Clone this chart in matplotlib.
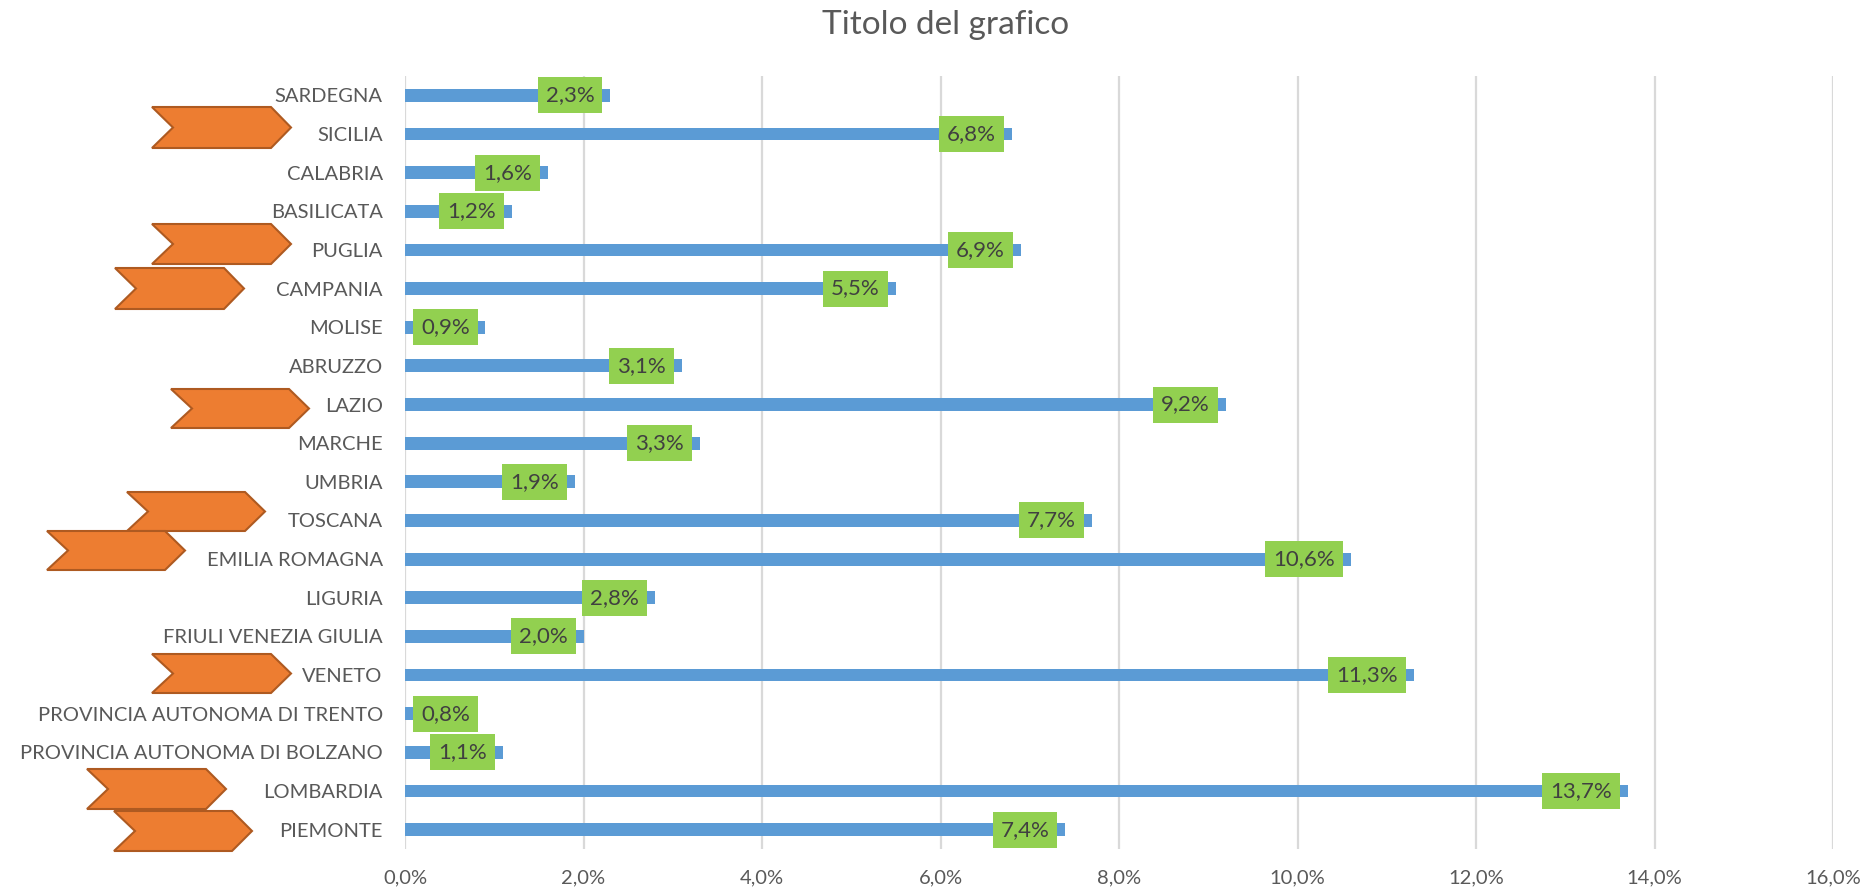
import matplotlib
matplotlib.use("Agg")
import matplotlib.pyplot as plt
from matplotlib.patches import Polygon
from matplotlib.ticker import FuncFormatter

# ---------------------------------------------------------------------------
# Data (bottom to top, as drawn by Excel)
# ---------------------------------------------------------------------------
regions = [
    "PIEMONTE", "LOMBARDIA", "PROVINCIA AUTONOMA DI BOLZANO",
    "PROVINCIA AUTONOMA DI TRENTO", "VENETO", "FRIULI VENEZIA GIULIA",
    "LIGURIA", "EMILIA ROMAGNA", "TOSCANA", "UMBRIA", "MARCHE", "LAZIO",
    "ABRUZZO", "MOLISE", "CAMPANIA", "PUGLIA", "BASILICATA", "CALABRIA",
    "SICILIA", "SARDEGNA",
]
shares = [
    7.4, 13.7, 1.1, 0.8, 11.3, 2.0, 2.8, 10.6, 7.7, 1.9, 3.3, 9.2,
    3.1, 0.9, 5.5, 6.9, 1.2, 1.6, 6.8, 2.3,
]
x_ticks = [0, 2, 4, 6, 8, 10, 12, 14, 16]

# orange chevrons drawn on the chart: (left, top, width, height) in pixels
chevrons = [
    (152, 107, 139, 41),   # SICILIA
    (152, 224, 139, 40),   # PUGLIA
    (115, 268, 129, 41),   # CAMPANIA
    (171, 389, 138, 39),   # LAZIO
    (127, 492, 138, 39),   # TOSCANA
    (47, 531, 138, 39),    # EMILIA ROMAGNA
    (152, 654, 139, 39),   # VENETO
    (87, 769, 139, 40),    # LOMBARDIA
    (114, 811, 138, 40),   # PIEMONTE
]

W, H = 1869, 893
BAR_COLOR = "#5B9BD5"
LABEL_BG = "#92D050"
TEXT_COLOR = "#595959"
GRID_COLOR = "#D9D9D9"

plt.rcParams["font.family"] = ["Lato", "DejaVu Sans"]

fig = plt.figure(figsize=(W / 100, H / 100), dpi=100)
ax = fig.add_axes([405 / W, 44 / H, (1833 - 405) / W, (849 - 76) / H])

ypos = list(range(len(regions)))
ax.barh(ypos, shares, height=0.33, color=BAR_COLOR, zorder=2)

ax.set_xlim(0, 16)
ax.set_ylim(-0.5, len(regions) - 0.5)
ax.set_xticks(x_ticks)
ax.xaxis.set_major_formatter(FuncFormatter(lambda v, _: f"{v:.1f}%".replace(".", ",")))
ax.set_yticks(ypos)
ax.set_yticklabels(regions)
ax.tick_params(axis="both", length=0, labelsize=14.5, labelcolor=TEXT_COLOR)
ax.tick_params(axis="y", pad=16)
ax.tick_params(axis="x", pad=15)
ax.grid(axis="x", color=GRID_COLOR, linewidth=1.6, zorder=0)
for s in ax.spines.values():
    s.set_visible(False)

# data labels, "inside end" style with green boxes
labels = []
for y, v in zip(ypos, shares):
    t = ax.annotate(
        f"{v:.1f}%".replace(".", ","), xy=(v, y), xytext=(-16, 0),
        textcoords="offset pixels", ha="right", va="center",
        fontsize=16, color="#404040", zorder=4,
        bbox=dict(boxstyle="square,pad=0.36", fc=LABEL_BG, ec="none"),
    )
    labels.append(t)

fig.canvas.draw()
renderer = fig.canvas.get_renderer()
axis_left = ax.transData.transform((0, 0))[0]
for t in labels:
    box = t.get_bbox_patch().get_window_extent(renderer)
    if box.x0 < axis_left + 8:
        shift = axis_left + 8 - box.x0
        ox, oy = t.xyann
        t.xyann = (ox + shift, oy)

# chevrons
for left, top, w, h in chevrons:
    notch = 21
    tip = 20
    pts = [
        (left, top), (left + w - tip, top), (left + w, top + h / 2),
        (left + w - tip, top + h), (left, top + h), (left + notch, top + h / 2),
    ]
    pts = [(px / W, 1 - py / H) for px, py in pts]
    fig.add_artist(Polygon(pts, closed=True, transform=fig.transFigure,
                           fc="#ED7D31", ec="#AE5A21", lw=1.5, zorder=5))

fig.text(946 / W, 1 - 34 / H, "Titolo del grafico", ha="center", va="baseline",
         fontsize=24, color=TEXT_COLOR)

fig.savefig("out.png", dpi=100)
